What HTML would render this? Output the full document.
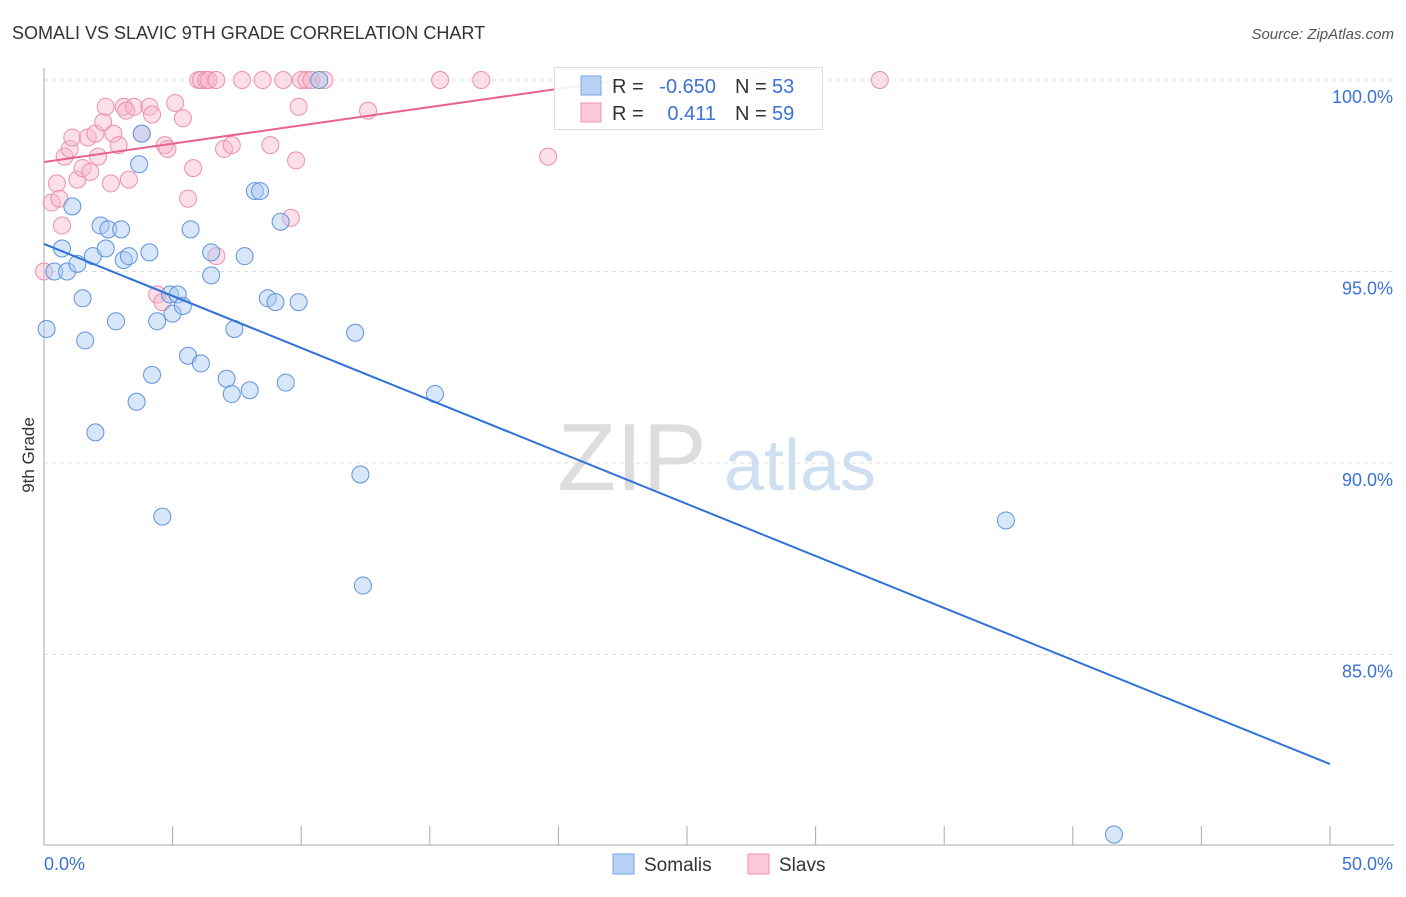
<!DOCTYPE html>
<html><head><meta charset="utf-8"><style>
body{margin:0;background:#fff;font-family:"Liberation Sans",sans-serif}
svg text{font-family:"Liberation Sans",sans-serif}
</style></head><body>
<svg id="chart" width="1406" height="892" viewBox="0 0 1406 892" xmlns="http://www.w3.org/2000/svg">
<text x="12" y="39" font-size="18" fill="#333">SOMALI VS SLAVIC 9TH GRADE CORRELATION CHART</text>
<text x="1394" y="39" font-size="15" fill="#555" text-anchor="end" font-style="italic">Source: ZipAtlas.com</text>
<g>
<text x="632" y="490" font-size="96" fill="#ddd" font-family="Liberation Serif" text-anchor="middle">ZIP</text>
<text x="800" y="490" font-size="72" fill="#cfdff2" text-anchor="middle">atlas</text>
</g>
<g id="grid"></g>
<g id="axes"></g>
<g id="marks"></g>
<text transform="translate(34,455) rotate(-90)" font-size="17" fill="#333" text-anchor="middle">9th Grade</text>
<g>
<rect x="554.5" y="67.5" width="268" height="62" fill="#fff" fill-opacity="0.9" stroke="#ddd"/>
<rect x="581" y="76" width="20" height="19" fill="#b9d1f4" stroke="#7aa5e6"/>
<rect x="581" y="103" width="20" height="19" fill="#fbc8d8" stroke="#ef93b1"/>
<text x="612" y="93" font-size="20" fill="#333">R =</text>
<text x="716" y="93" font-size="20" fill="#3a72d6" text-anchor="end">-0.650</text>
<text x="735" y="93" font-size="20" fill="#333">N =</text>
<text x="772" y="93" font-size="20" fill="#3a72d6">53</text>
<text x="612" y="120" font-size="20" fill="#333">R =</text>
<text x="716" y="120" font-size="20" fill="#3a72d6" text-anchor="end">0.411</text>
<text x="735" y="120" font-size="20" fill="#333">N =</text>
<text x="772" y="120" font-size="20" fill="#3a72d6">59</text>
</g>
<g>
<rect x="613" y="854" width="21" height="20" fill="#b9d1f4" stroke="#7aa5e6"/>
<text x="644" y="871" font-size="19" fill="#333">Somalis</text>
<rect x="748" y="854" width="21" height="20" fill="#fbc8d8" stroke="#ef93b1"/>
<text x="779" y="871" font-size="19" fill="#333">Slavs</text>
</g>
</svg>
<script>
const somaliX=[0.1,0.4,0.7,0.9,1.1,1.3,1.5,1.6,1.9,2.0,2.2,2.4,2.5,2.8,3.0,3.1,3.3,3.6,3.7,3.8,4.1,4.2,4.4,4.6,4.9,5.0,5.2,5.4,5.6,5.7,6.1,6.5,6.5,7.1,7.3,7.4,7.8,8.0,8.2,8.4,8.7,9.0,9.2,9.4,9.9,10.7,12.1,12.3,12.4,15.2,37.4,41.6];
const somaliY=[93.5,95.0,95.6,95.0,96.7,95.2,94.3,93.2,95.4,90.8,96.2,95.6,96.1,93.7,96.1,95.3,95.4,91.6,97.8,98.6,95.5,92.3,93.7,88.6,94.4,93.9,94.4,94.1,92.8,96.1,92.6,95.5,94.9,92.2,91.8,93.5,95.4,91.9,97.1,97.1,94.3,94.2,96.3,92.1,94.2,100.0,93.4,89.7,86.8,91.8,88.5,80.3];
const slavX=[0.0,0.3,0.5,0.6,0.7,0.8,1.0,1.1,1.3,1.5,1.7,1.8,2.0,2.1,2.3,2.4,2.6,2.7,2.9,3.1,3.2,3.3,3.5,3.8,4.1,4.2,4.4,4.6,4.7,4.8,5.1,5.4,5.6,5.8,6.0,6.1,6.3,6.4,6.7,7.0,7.3,7.7,8.5,8.8,9.3,9.6,9.8,9.9,10.0,10.2,10.4,10.9,12.6,15.4,17.0,19.6,28.0,32.5,6.7];
const slavY=[95.0,96.8,97.3,96.9,96.2,98.0,98.2,98.5,97.4,97.7,98.5,97.6,98.6,98.0,98.9,99.3,97.3,98.6,98.3,99.3,99.2,97.4,99.3,98.6,99.3,99.1,94.4,94.2,98.3,98.2,99.4,99.0,96.9,97.7,100.0,100.0,100.0,100.0,100.0,98.2,98.3,100.0,100.0,98.3,100.0,96.4,97.9,99.3,100.0,100.0,100.0,100.0,99.2,100.0,100.0,98.0,100.0,100.0,95.4];
const somaliTrend=[0,95.72,50,82.14];
const slavTrend=[0,97.86,22.4,100.0];
const xTickLabels=["0.0%","50.0%"];
const yTicks=[100,95,90,85];
const yTickLabels=["100.0%","95.0%","90.0%","85.0%"];

const NS="http://www.w3.org/2000/svg";
const X0=44,X1=1330,Y100=80,PX5=191.5,BOT=845;
const xs=v=>X0+(v/50)*(X1-X0);
const ys=v=>Y100+(100-v)/5*PX5;
function mk(tag,attrs,parent){const e=document.createElementNS(NS,tag);for(const k in attrs)e.setAttribute(k,attrs[k]);parent.appendChild(e);return e;}
const grid=document.getElementById('grid'),axes=document.getElementById('axes'),marks=document.getElementById('marks');
yTicks.forEach((t,i)=>{
  const l=mk('line',{x1:X0,x2:1394,y1:ys(t),y2:ys(t),stroke:'#ddd','stroke-dasharray':'4,4'},grid);
  
  
  const tx=mk('text',{x:1393,y:ys(t)+23,'font-size':18,fill:'#3a72d6','text-anchor':'end'},axes);
  tx.textContent=yTickLabels[i];
  
  
});
const ya=mk('line',{x1:X0,x2:X0,y1:68,y2:BOT,stroke:'#aaa'},axes);


const xa=mk('line',{x1:X0,x2:1394,y1:BOT,y2:BOT,stroke:'#aaa'},axes);


for(let i=0;i<=10;i++){
  const t=mk('line',{x1:xs(i*5),x2:xs(i*5),y1:826,y2:BOT,stroke:'#aaa'},axes);
  
  
}
[[0,'start',44],[50,'end',1393]].forEach((d,i)=>{
  const tx=mk('text',{x:d[2],y:870,'font-size':18,fill:'#3a72d6','text-anchor':d[1]},axes);
  tx.textContent=xTickLabels[i];
  
  
});
slavX.forEach((v,i)=>{
  const c=mk('circle',{cx:xs(v),cy:ys(slavY[i]),r:8.5,fill:'#f8b9cd','fill-opacity':0.45,stroke:'#ec8fad','stroke-width':1},marks);
  
  
});
somaliX.forEach((v,i)=>{
  const c=mk('circle',{cx:xs(v),cy:ys(somaliY[i]),r:8.5,fill:'#a9c7f1','fill-opacity':0.45,stroke:'#5f93e0','stroke-width':1},marks);
  
  
});
const bl=mk('line',{x1:xs(somaliTrend[0]),y1:ys(somaliTrend[1]),x2:xs(somaliTrend[2]),y2:ys(somaliTrend[3]),stroke:'#2f72d8','stroke-width':2},marks);


const pl=mk('line',{x1:xs(slavTrend[0]),y1:ys(slavTrend[1]),x2:xs(slavTrend[2]),y2:ys(slavTrend[3]),stroke:'#e8628e','stroke-width':2},marks);


</script>
</body></html>
